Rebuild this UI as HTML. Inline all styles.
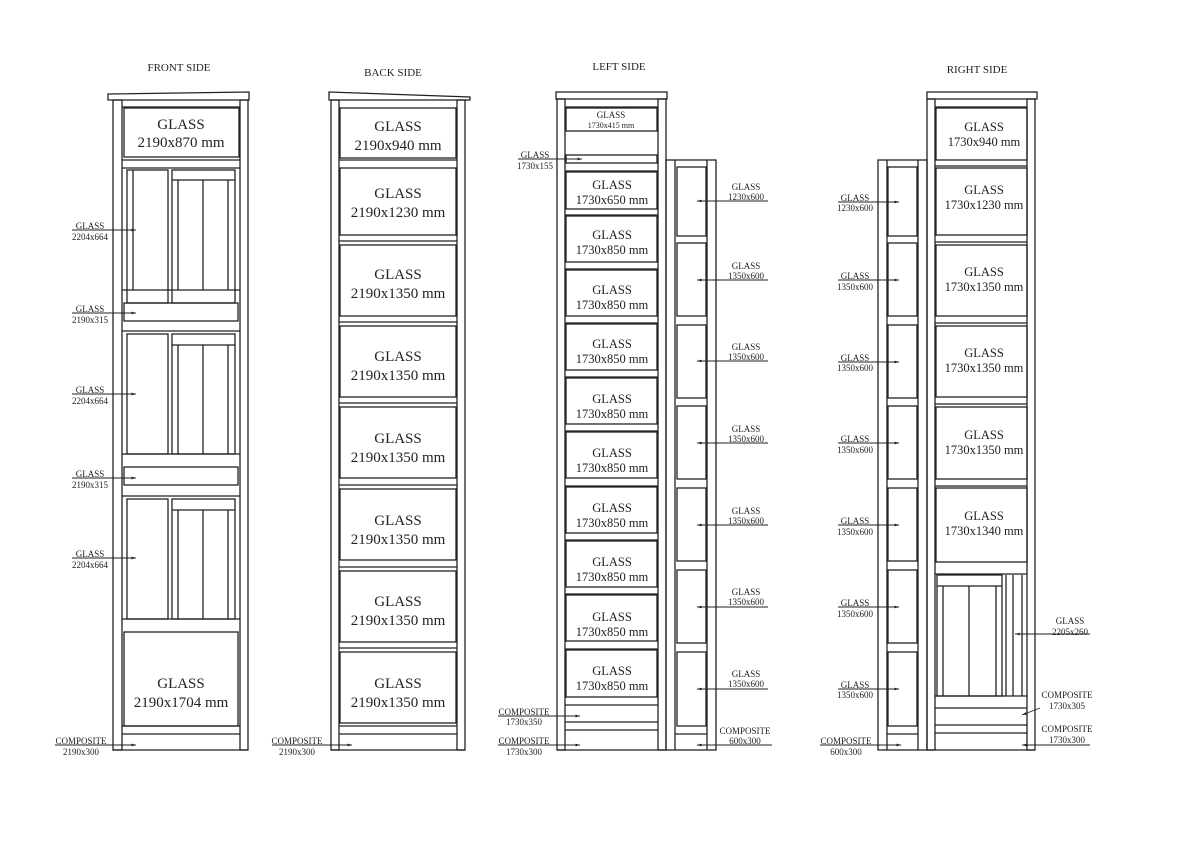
<!DOCTYPE html>
<html><head><meta charset="utf-8"><style>
html,body{margin:0;padding:0;background:#fff;width:1195px;height:841px;overflow:hidden}
svg{display:block}
text{font-family:"Liberation Serif",serif;fill:#222}
.b{font-size:15px}
.s{font-size:9px}
.t{font-size:11px}
</style></head><body>
<svg width="1195" height="841" viewBox="0 0 1195 841" xmlns="http://www.w3.org/2000/svg">
<defs><marker id="a" markerWidth="6" markerHeight="6" refX="5" refY="3" orient="auto"><path d="M0,1.5 L5,3 L0,4.5z" fill="#222"/></marker></defs>
<g fill="none" stroke="#222" stroke-width="1.3">
<!-- FRONT -->
<path d="M108,94 L249,92 L249,100 L108,100 Z"/>
<rect x="113" y="100" width="9" height="650"/>
<rect x="240" y="100" width="8" height="650"/>
<line x1="122" y1="107" x2="240" y2="107"/>
<rect x="124" y="108" width="115" height="49"/>
<line x1="122" y1="160" x2="240" y2="160"/>
<line x1="122" y1="168" x2="240" y2="168"/>
<rect x="127" y="170" width="41" height="133"/><line x1="133" y1="170" x2="133" y2="290"/>
<rect x="172" y="170" width="63" height="133"/><line x1="172" y1="180" x2="235" y2="180"/>
<line x1="178" y1="180" x2="178" y2="290"/><line x1="203" y1="180" x2="203" y2="290"/><line x1="228" y1="180" x2="228" y2="290"/>
<line x1="122" y1="290" x2="240" y2="290"/>
<rect x="124" y="303" width="114" height="18"/>
<line x1="122" y1="331" x2="240" y2="331"/>
<rect x="127" y="334" width="41" height="120"/>
<rect x="172" y="334" width="63" height="120"/><line x1="172" y1="345" x2="235" y2="345"/>
<line x1="178" y1="345" x2="178" y2="454"/><line x1="203" y1="345" x2="203" y2="454"/><line x1="228" y1="345" x2="228" y2="454"/>
<line x1="122" y1="454" x2="240" y2="454"/>
<rect x="124" y="467" width="114" height="18"/>
<line x1="122" y1="496" x2="240" y2="496"/>
<rect x="127" y="499" width="41" height="120"/>
<rect x="172" y="499" width="63" height="120"/><line x1="172" y1="510" x2="235" y2="510"/>
<line x1="178" y1="510" x2="178" y2="619"/><line x1="203" y1="510" x2="203" y2="619"/><line x1="228" y1="510" x2="228" y2="619"/>
<line x1="122" y1="619" x2="240" y2="619"/>
<rect x="124" y="632" width="114" height="94"/>
<line x1="122" y1="726" x2="240" y2="726"/>
<line x1="122" y1="734" x2="240" y2="734"/>
<line x1="113" y1="750" x2="248" y2="750"/>
<!-- BACK -->
<path d="M329,92 L470,97 L470,100 L329,100 Z"/>
<rect x="331" y="100" width="8" height="650"/>
<rect x="457" y="100" width="8" height="650"/>
<rect x="340" y="108" width="116" height="50"/><line x1="339" y1="160" x2="457" y2="160"/>
<rect x="340" y="168" width="116" height="67"/><line x1="339" y1="241" x2="457" y2="241"/>
<rect x="340" y="245" width="116" height="71"/><line x1="339" y1="322" x2="457" y2="322"/>
<rect x="340" y="326" width="116" height="71"/><line x1="339" y1="403" x2="457" y2="403"/>
<rect x="340" y="407" width="116" height="71"/><line x1="339" y1="485" x2="457" y2="485"/>
<rect x="340" y="489" width="116" height="71"/><line x1="339" y1="567" x2="457" y2="567"/>
<rect x="340" y="571" width="116" height="71"/><line x1="339" y1="648" x2="457" y2="648"/>
<rect x="340" y="652" width="116" height="71"/>
<line x1="339" y1="726" x2="457" y2="726"/><line x1="339" y1="734" x2="457" y2="734"/>
<line x1="331" y1="750" x2="465" y2="750"/>
<!-- LEFT SIDE main -->
<rect x="556" y="92" width="111" height="7"/>
<rect x="557" y="99" width="8" height="651"/>
<rect x="658" y="99" width="8" height="651"/>
<line x1="565" y1="107" x2="658" y2="107"/>
<rect x="566" y="108" width="91" height="23"/>
<rect x="566" y="155" width="91" height="8"/>
<line x1="565" y1="171" x2="658" y2="171"/>
<rect x="566" y="172" width="91" height="37"/><line x1="565" y1="215" x2="658" y2="215"/>
<rect x="566" y="216" width="91" height="46"/><line x1="565" y1="269" x2="658" y2="269"/>
<rect x="566" y="270" width="91" height="46"/><line x1="565" y1="323" x2="658" y2="323"/>
<rect x="566" y="324" width="91" height="46"/><line x1="565" y1="377" x2="658" y2="377"/>
<rect x="566" y="378" width="91" height="46"/><line x1="565" y1="431" x2="658" y2="431"/>
<rect x="566" y="432" width="91" height="46"/><line x1="565" y1="486" x2="658" y2="486"/>
<rect x="566" y="487" width="91" height="46"/><line x1="565" y1="540" x2="658" y2="540"/>
<rect x="566" y="541" width="91" height="46"/><line x1="565" y1="594" x2="658" y2="594"/>
<rect x="566" y="595" width="91" height="46"/><line x1="565" y1="649" x2="658" y2="649"/>
<rect x="566" y="650" width="91" height="47"/>
<line x1="565" y1="705" x2="658" y2="705"/><line x1="565" y1="722" x2="658" y2="722"/><line x1="565" y1="730" x2="658" y2="730"/>
<line x1="557" y1="750" x2="666" y2="750"/>
<!-- LEFT side cabinet -->
<rect x="666" y="160" width="50" height="590"/>
<line x1="675" y1="160" x2="675" y2="750"/><line x1="707" y1="160" x2="707" y2="750"/>
<rect x="677" y="167" width="29" height="69"/>
<rect x="677" y="243" width="29" height="73"/>
<rect x="677" y="325" width="29" height="73"/>
<rect x="677" y="406" width="29" height="73"/>
<rect x="677" y="488" width="29" height="73"/>
<rect x="677" y="570" width="29" height="73"/>
<rect x="677" y="652" width="29" height="74"/>
<line x1="675" y1="734" x2="707" y2="734"/>
<!-- RIGHT main -->
<rect x="927" y="92" width="110" height="7"/>
<rect x="927" y="99" width="8" height="651"/>
<rect x="1027" y="99" width="8" height="651"/>
<line x1="935" y1="107" x2="1027" y2="107"/>
<rect x="936" y="108" width="91" height="52"/><line x1="935" y1="166" x2="1027" y2="166"/>
<rect x="936" y="168" width="91" height="67"/><line x1="935" y1="242" x2="1027" y2="242"/>
<rect x="936" y="245" width="91" height="71"/><line x1="935" y1="323" x2="1027" y2="323"/>
<rect x="936" y="326" width="91" height="71"/><line x1="935" y1="404" x2="1027" y2="404"/>
<rect x="936" y="407" width="91" height="72"/><line x1="935" y1="486" x2="1027" y2="486"/>
<rect x="936" y="488" width="91" height="74"/>
<line x1="935" y1="574" x2="1027" y2="574"/>
<rect x="937" y="575" width="65" height="121"/><line x1="937" y1="586" x2="1002" y2="586"/>
<line x1="943" y1="586" x2="943" y2="696"/><line x1="969" y1="586" x2="969" y2="696"/><line x1="996" y1="586" x2="996" y2="696"/>
<line x1="1006" y1="575" x2="1006" y2="696"/><line x1="1013" y1="575" x2="1013" y2="696"/><line x1="1022" y1="575" x2="1022" y2="696"/>
<line x1="935" y1="696" x2="1027" y2="696"/><line x1="935" y1="708" x2="1027" y2="708"/>
<line x1="935" y1="725" x2="1027" y2="725"/><line x1="935" y1="733" x2="1027" y2="733"/>
<line x1="927" y1="750" x2="1035" y2="750"/>
<!-- RIGHT side cabinet -->
<rect x="878" y="160" width="49" height="590"/>
<line x1="887" y1="160" x2="887" y2="750"/><line x1="918" y1="160" x2="918" y2="750"/>
<rect x="888" y="167" width="29" height="69"/>
<rect x="888" y="243" width="29" height="73"/>
<rect x="888" y="325" width="29" height="73"/>
<rect x="888" y="406" width="29" height="73"/>
<rect x="888" y="488" width="29" height="73"/>
<rect x="888" y="570" width="29" height="73"/>
<rect x="888" y="652" width="29" height="74"/>
<line x1="887" y1="734" x2="918" y2="734"/>
</g>
<!-- leader lines -->
<g stroke="#222" stroke-width="0.9" marker-end="url(#a)">
<line x1="72" y1="230" x2="136" y2="230"/><line x1="72" y1="313" x2="136" y2="313"/>
<line x1="72" y1="394" x2="136" y2="394"/><line x1="72" y1="478" x2="136" y2="478"/>
<line x1="72" y1="558" x2="136" y2="558"/><line x1="55" y1="745" x2="136" y2="745"/>
<line x1="272" y1="745" x2="352" y2="745"/>
<line x1="518" y1="159" x2="582" y2="159"/>
<line x1="498" y1="716" x2="580" y2="716"/><line x1="498" y1="745" x2="580" y2="745"/>
<line x1="768" y1="201" x2="697" y2="201"/><line x1="768" y1="280" x2="697" y2="280"/>
<line x1="768" y1="361" x2="697" y2="361"/><line x1="768" y1="443" x2="697" y2="443"/>
<line x1="768" y1="525" x2="697" y2="525"/><line x1="768" y1="607" x2="697" y2="607"/>
<line x1="768" y1="689" x2="697" y2="689"/><line x1="772" y1="745" x2="697" y2="745"/>
<line x1="838" y1="202" x2="899" y2="202"/><line x1="838" y1="280" x2="899" y2="280"/>
<line x1="838" y1="362" x2="899" y2="362"/><line x1="838" y1="443" x2="899" y2="443"/>
<line x1="838" y1="525" x2="899" y2="525"/><line x1="838" y1="607" x2="899" y2="607"/>
<line x1="838" y1="689" x2="899" y2="689"/><line x1="820" y1="745" x2="901" y2="745"/>
<line x1="1090" y1="634" x2="1015" y2="634"/><line x1="1040" y1="708" x2="1022" y2="715"/>
<line x1="1090" y1="745" x2="1022" y2="745"/>
</g>
<!-- titles -->
<g class="t">
<text x="179" y="71" text-anchor="middle">FRONT SIDE</text>
<text x="393" y="76" text-anchor="middle">BACK SIDE</text>
<text x="619" y="70" text-anchor="middle">LEFT SIDE</text>
<text x="977" y="73" text-anchor="middle">RIGHT SIDE</text>
</g>
<!-- big labels -->
<g class="b" text-anchor="middle">
<text x="181" y="129">GLASS</text><text x="181" y="147">2190x870 mm</text>
<text x="181" y="688">GLASS</text><text x="181" y="707">2190x1704 mm</text>
<text x="398" y="131">GLASS</text><text x="398" y="150">2190x940 mm</text>
<text x="398" y="198">GLASS</text><text x="398" y="217">2190x1230 mm</text>
<text x="398" y="279">GLASS</text><text x="398" y="298">2190x1350 mm</text>
<text x="398" y="361">GLASS</text><text x="398" y="380">2190x1350 mm</text>
<text x="398" y="443">GLASS</text><text x="398" y="462">2190x1350 mm</text>
<text x="398" y="525">GLASS</text><text x="398" y="544">2190x1350 mm</text>
<text x="398" y="606">GLASS</text><text x="398" y="625">2190x1350 mm</text>
<text x="398" y="688">GLASS</text><text x="398" y="707">2190x1350 mm</text>
</g>
<g style="font-size:12.5px" text-anchor="middle">
<text x="612" y="189">GLASS</text><text x="612" y="204">1730x650 mm</text>
<text x="612" y="239">GLASS</text><text x="612" y="254">1730x850 mm</text>
<text x="612" y="294">GLASS</text><text x="612" y="309">1730x850 mm</text>
<text x="612" y="348">GLASS</text><text x="612" y="363">1730x850 mm</text>
<text x="612" y="403">GLASS</text><text x="612" y="418">1730x850 mm</text>
<text x="612" y="457">GLASS</text><text x="612" y="472">1730x850 mm</text>
<text x="612" y="512">GLASS</text><text x="612" y="527">1730x850 mm</text>
<text x="612" y="566">GLASS</text><text x="612" y="581">1730x850 mm</text>
<text x="612" y="621">GLASS</text><text x="612" y="636">1730x850 mm</text>
<text x="612" y="675">GLASS</text><text x="612" y="690">1730x850 mm</text>
<text x="984" y="131">GLASS</text><text x="984" y="146">1730x940 mm</text>
<text x="984" y="194">GLASS</text><text x="984" y="209">1730x1230 mm</text>
<text x="984" y="276">GLASS</text><text x="984" y="291">1730x1350 mm</text>
<text x="984" y="357">GLASS</text><text x="984" y="372">1730x1350 mm</text>
<text x="984" y="439">GLASS</text><text x="984" y="454">1730x1350 mm</text>
<text x="984" y="520">GLASS</text><text x="984" y="535">1730x1340 mm</text>
</g>
<g class="s" text-anchor="middle">
<text x="611" y="118">GLASS</text><text x="611" y="128" style="font-size:8px">1730x415 mm</text>
<text x="90" y="229">GLASS</text><text x="90" y="240">2204x664</text>
<text x="90" y="312">GLASS</text><text x="90" y="323">2190x315</text>
<text x="90" y="393">GLASS</text><text x="90" y="404">2204x664</text>
<text x="90" y="477">GLASS</text><text x="90" y="488">2190x315</text>
<text x="90" y="557">GLASS</text><text x="90" y="568">2204x664</text>
<text x="81" y="744">COMPOSITE</text><text x="81" y="755">2190x300</text>
<text x="297" y="744">COMPOSITE</text><text x="297" y="755">2190x300</text>
<text x="535" y="158">GLASS</text><text x="535" y="169">1730x155</text>
<text x="524" y="715">COMPOSITE</text><text x="524" y="725">1730x350</text>
<text x="524" y="744">COMPOSITE</text><text x="524" y="755">1730x300</text>
<text x="746" y="190">GLASS</text><text x="746" y="200">1230x600</text>
<text x="746" y="269">GLASS</text><text x="746" y="279">1350x600</text>
<text x="746" y="350">GLASS</text><text x="746" y="360">1350x600</text>
<text x="746" y="432">GLASS</text><text x="746" y="442">1350x600</text>
<text x="746" y="514">GLASS</text><text x="746" y="524">1350x600</text>
<text x="746" y="595">GLASS</text><text x="746" y="605">1350x600</text>
<text x="746" y="677">GLASS</text><text x="746" y="687">1350x600</text>
<text x="745" y="734">COMPOSITE</text><text x="745" y="744">600x300</text>
<text x="855" y="201">GLASS</text><text x="855" y="211">1230x600</text>
<text x="855" y="279">GLASS</text><text x="855" y="290">1350x600</text>
<text x="855" y="361">GLASS</text><text x="855" y="371">1350x600</text>
<text x="855" y="442">GLASS</text><text x="855" y="453">1350x600</text>
<text x="855" y="524">GLASS</text><text x="855" y="535">1350x600</text>
<text x="855" y="606">GLASS</text><text x="855" y="617">1350x600</text>
<text x="855" y="688">GLASS</text><text x="855" y="698">1350x600</text>
<text x="846" y="744">COMPOSITE</text><text x="846" y="755">600x300</text>
<text x="1070" y="624">GLASS</text><text x="1070" y="635">2205x260</text>
<text x="1067" y="698">COMPOSITE</text><text x="1067" y="709">1730x305</text>
<text x="1067" y="732">COMPOSITE</text><text x="1067" y="743">1730x300</text>
</g>
</svg>
</body></html>
